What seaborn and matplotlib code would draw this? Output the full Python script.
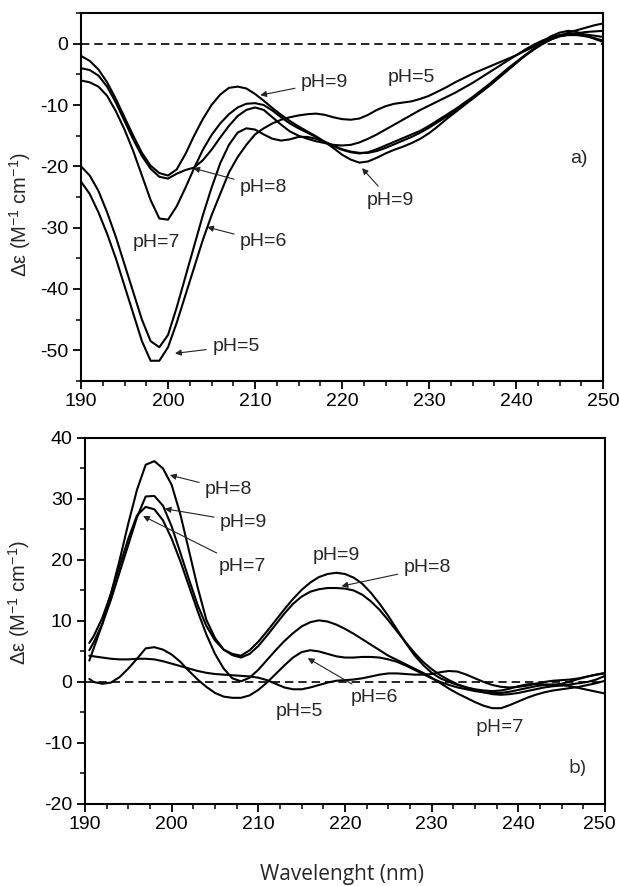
import numpy as np
import pandas as pd
import matplotlib
matplotlib.use("Agg")
import matplotlib.pyplot as plt
import matplotlib.transforms as mtransforms
import seaborn as sns
from matplotlib.ticker import MultipleLocator

# CD spectra (delta epsilon, M-1 cm-1)
WL_A = list(range(190, 251))
WL_B = [190.5] + list(range(191, 251))

# panel a)
A_PH9 = [-2, -2.8, -4.2, -6.3, -9, -12, -15, -17.8, -19.9, -21.1,
         -21.5, -20.5, -18, -15, -12.3, -10, -8.3, -7.2, -7, -7.3,
         -8.2, -9.3, -10.5, -11.6, -12.6, -13.5, -14.3, -15.1, -16, -17,
         -18.1, -18.9, -19.4, -19.2, -18.6, -17.9, -17.3, -16.8, -16.2, -15.5,
         -14.6, -13.5, -12.3, -11.2, -10.1, -9, -7.9, -6.8, -5.6, -4.4,
         -3.2, -2, -0.9, 0, 0.7, 1.2, 1.4, 1.4, 1.2, 0.9,
         0.5]
A_PH8 = [-4, -4.3, -5.2, -7, -9.6, -12.6, -15.6, -18.3, -20.4, -21.7,
         -22, -21.2, -20.6, -20.2, -19, -17.3, -15.3, -13.4, -11.8, -10.8,
         -10.4, -10.8, -12, -13.2, -14.3, -15, -15.5, -15.9, -16.2, -16.5,
         -16.6, -16.5, -16.1, -15.5, -14.8, -14, -13.2, -12.4, -11.6, -10.8,
         -10.1, -9.4, -8.7, -8, -7.2, -6.4, -5.5, -4.6, -3.7, -2.8,
         -1.9, -1, -0.2, 0.5, 1, 1.4, 1.6, 1.6, 1.5, 1.3,
         1.1]
A_PH7 = [-6, -6.3, -7, -8.5, -11, -14, -17.5, -21.5, -25.5, -28.5,
         -28.7, -26.5, -23.5, -20.3, -17.3, -14.9, -13, -11.5, -10.4, -9.8,
         -9.7, -10, -10.9, -12, -13, -13.8, -14.5, -15.2, -16, -16.7,
         -17.3, -17.7, -17.9, -17.7, -17.2, -16.6, -16, -15.4, -14.8, -14.2,
         -13.4, -12.5, -11.6, -10.7, -9.7, -8.7, -7.6, -6.5, -5.3, -4.1,
         -3, -1.9, -0.9, 0, 0.7, 1.2, 1.5, 1.7, 1.9, 2,
         2.1]
A_PH6 = [-20, -21.5, -24, -27.5, -31.5, -36, -40.5, -45, -48.5, -49.5,
         -47.5, -43, -38, -33, -28, -23.5, -19.5, -16.5, -14.5, -13.8,
         -14, -14.8, -15.5, -15.8, -15.6, -15.2, -15.2, -15.5, -16, -16.6,
         -17.2, -17.6, -17.8, -17.8, -17.5, -17, -16.4, -15.8, -15.2, -14.5,
         -13.7, -12.8, -11.9, -10.9, -9.9, -8.9, -7.8, -6.7, -5.5, -4.3,
         -3.1, -2, -1, -0.1, 0.7, 1.3, 1.8, 2.2, 2.6, 3,
         3.3]
A_PH5 = [-22.5, -24.5, -27.5, -31, -35, -39.5, -44, -48.5, -51.7, -51.7,
         -49.5, -45.5, -41, -36.5, -32, -28, -24.5, -21, -18.5, -16.5,
         -14.8, -13.8, -13, -12.4, -12, -11.7, -11.5, -11.4, -11.6, -12,
         -12.3, -12.4, -12.2, -11.6, -10.8, -10.2, -9.8, -9.6, -9.4, -9,
         -8.5, -7.8, -7.1, -6.3, -5.6, -4.9, -4.3, -3.7, -3.1, -2.5,
         -1.9, -1.2, -0.5, 0.3, 1.2, 1.8, 2.1, 1.9, 1.4, 0.8,
         0.3]

# panel b)
B_PH8 = [3.5,
         5.5, 9.5, 14.5, 20, 26, 31.5, 35.6, 36.2, 35, 32.3,
         27.5, 21.5, 15.5, 10.2, 7.2, 5.3, 4.4, 4, 4.6, 5.9,
         7.6, 9.4, 11.2, 12.8, 14, 14.8, 15.2, 15.4, 15.4, 15.3,
         15, 14.3, 13.2, 11.8, 10.1, 8.3, 6.5, 4.8, 3.3, 2.1,
         1.1, 0.3, -0.4, -0.9, -1.3, -1.7, -2, -2.1, -2, -1.8,
         -1.5, -1.2, -0.9, -0.7, -0.6, -0.4, -0.2, 0, 0.4, 1]
B_PH9 = [5.2,
         6.5, 9.5, 13.5, 18, 22.5, 27, 30.4, 30.5, 28.9, 25.5,
         21.2, 16.8, 12.6, 9.2, 6.8, 5.3, 4.6, 4.3, 5.2, 6.6,
         8.3, 10.1, 11.9, 13.6, 15.1, 16.3, 17.2, 17.7, 17.9, 17.7,
         17.1, 16.1, 14.6, 12.8, 10.8, 8.6, 6.4, 4.4, 2.8, 1.5,
         0.6, 0, -0.5, -0.9, -1.2, -1.4, -1.5, -1.4, -1.1, -0.7,
         -0.4, -0.3, -0.4, -0.5, -0.3, 0.1, 0.5, 0.9, 1.2, 1.5]
B_PH7 = [6.4,
         7.5, 10.5, 14.5, 19, 23.5, 27.3, 28.7, 28.3, 26.5, 23.5,
         19.8, 15.7, 11.6, 7.8, 4.6, 2.2, 0.6, 0.1, 0.7, 2,
         3.6, 5.2, 6.7, 8, 9.1, 9.8, 10.1, 9.9, 9.4, 8.7,
         7.9, 7, 6.1, 5.2, 4.3, 3.6, 2.9, 2.2, 1.5, 0.7,
         -0.2, -1.1, -1.9, -2.6, -3.3, -3.9, -4.3, -4.3, -3.8, -3.2,
         -2.6, -2.1, -1.7, -1.4, -1.2, -1, -0.8, -0.5, -0.2, 0.2]
B_PH6 = [0.5,
         0, -0.3, -0.1, 0.8, 2.2, 3.8, 5.5, 5.7, 5.3, 4.5,
         3.3, 1.8, 0.4, -0.8, -1.8, -2.4, -2.6, -2.6, -2.2, -1.3,
         -0.1, 1.3, 2.7, 4, 4.9, 5.2, 5, 4.6, 4.2, 4,
         4, 4.1, 4.1, 4, 3.7, 3.3, 2.7, 2, 1.3, 0.6,
         0, -0.5, -0.9, -1.2, -1.5, -1.7, -1.8, -1.8, -1.6, -1.3,
         -1, -0.7, -0.5, -0.4, -0.5, -0.7, -1, -1.3, -1.6, -1.9]
B_PH5 = [4.3,
         4.2, 4, 3.8, 3.7, 3.7, 3.8, 3.8, 3.7, 3.4, 3,
         2.6, 2.2, 1.8, 1.5, 1.3, 1.2, 1.1, 1, 0.9, 0.7,
         0.3, -0.3, -0.9, -1.2, -1.2, -0.9, -0.5, -0.1, 0.2, 0.3,
         0.4, 0.6, 0.9, 1.2, 1.4, 1.4, 1.3, 1.2, 1.2, 1.3,
         1.6, 1.8, 1.7, 1.2, 0.6, 0, -0.5, -0.8, -0.9, -0.8,
         -0.6, -0.3, 0, 0.2, 0.3, 0.4, 0.6, 0.9, 1.2, 1.4]

sns.set_style("ticks")
plt.rcParams.update({
    "font.family": ["Liberation Sans", "DejaVu Sans"],
    "axes.unicode_minus": False,
    "mathtext.default": "regular",
    "axes.linewidth": 1.5,
    "axes.edgecolor": "black",
    "xtick.color": "black", "ytick.color": "black",
    "xtick.major.width": 1.3, "ytick.major.width": 1.3,
    "xtick.minor.width": 1.1, "ytick.minor.width": 1.1,
    "xtick.major.size": 6, "ytick.major.size": 6,
    "xtick.minor.size": 3.5, "ytick.minor.size": 3.5,
    "xtick.labelsize": 14, "ytick.labelsize": 14,
})

YLABEL = r"$\Delta\varepsilon$ (M$^{-1}$ cm$^{-1}$)"
ARROW = dict(arrowstyle="-|>", color="#222222", lw=0.8, mutation_scale=9, shrinkA=2, shrinkB=0)
LABEL_SIZE = 14


def draw_panel(ax, wl, curves):
    df = pd.concat([pd.DataFrame({"wl": wl, "de": v, "pH": k}) for k, v in curves.items()])
    sns.lineplot(data=df, x="wl", y="de", hue="pH", palette=["black"] * len(curves),
                 legend=False, estimator=None, sort=False, lw=1.5, ax=ax)
    ax.axhline(0, color="black", lw=1.2, ls=(0, (5, 3)), zorder=1)
    ax.set_xlim(190, 250)
    ax.xaxis.set_major_locator(MultipleLocator(10))
    ax.xaxis.set_minor_locator(MultipleLocator(2.5))
    ax.yaxis.set_major_locator(MultipleLocator(10))
    ax.yaxis.set_minor_locator(MultipleLocator(5))
    ax.tick_params(which="both", top=False, right=False, pad=3)
    for s in ax.spines.values():
        s.set_visible(True)
        s.set_color("black")


def label(ax, text, xy_text, tip=None, **kw):
    if tip is None:
        ax.text(*xy_text, text, ha="center", va="center", fontsize=LABEL_SIZE, **kw)
    else:
        ax.annotate(text, xy=tip, xytext=xy_text, ha="center", va="center",
                    fontsize=LABEL_SIZE, arrowprops=ARROW, **kw)


fig = plt.figure(figsize=(6.19, 8.86), dpi=100)
ax_a = fig.add_axes([0.1309, 0.5700, 0.8433, 0.4153])
ax_b = fig.add_axes([0.1373, 0.0926, 0.8401, 0.4131])

# a)
draw_panel(ax_a, WL_A, {"9": A_PH9, "8": A_PH8, "7": A_PH7, "6": A_PH6, "5": A_PH5})
ax_a.set_ylim(-55, 5)
ax_a.set_xlabel("")
ax_a.set_ylabel(YLABEL, fontsize=14.5)
ax_a.yaxis.set_label_coords(-0.092, 0.451)
label(ax_a, "pH=9", (218.0, -6.3), (210.6, -8.4))
label(ax_a, "pH=5", (228.0, -5.5))
label(ax_a, "pH=8", (211.0, -23.4), (202.9, -20.3))
label(ax_a, "pH=9", (225.6, -25.5), (222.3, -20.3))
label(ax_a, "pH=7", (198.7, -32.5))
label(ax_a, "pH=6", (211.0, -32.3), (204.5, -29.9))
label(ax_a, "pH=5", (207.8, -49.3), (200.8, -50.5))
label(ax_a, "a)", (247.2, -18.7))

# b)
draw_panel(ax_b, WL_B, {"8": B_PH8, "9": B_PH9, "7": B_PH7, "6": B_PH6, "5": B_PH5})
ax_b.set_ylim(-20, 40)
ax_b.set_ylabel(YLABEL, fontsize=14.5)
ax_b.yaxis.set_label_coords(-0.102, 0.549)
ax_b.set_xlabel("Wavelenght (nm)", fontsize=15, family=["Open Sans", "DejaVu Sans"])
ax_b.xaxis.set_label_coords(0.494, -0.163)
label(ax_b, "pH=8", (206.6, 31.5), (199.8, 33.9))
label(ax_b, "pH=9", (208.3, 26.2), (199.2, 28.4))
label(ax_b, "pH=7", (208.2, 19.0), (196.7, 27.2))
label(ax_b, "pH=9", (219.0, 20.8))
label(ax_b, "pH=8", (229.5, 18.7), (219.6, 15.7))
label(ax_b, "pH=6", (223.4, -2.5), (215.7, 3.9))
label(ax_b, "pH=5", (214.7, -4.8))
label(ax_b, "pH=7", (237.8, -7.4), family=["Open Sans", "DejaVu Sans"])
label(ax_b, "b)", (246.8, -14.1), family=["Open Sans", "DejaVu Sans"])

# nudge the last "250" of the lower panel so it stays inside the figure
fig.canvas.draw()
for tick in ax_b.xaxis.get_major_ticks():
    if abs(tick.get_loc() - 250) < 1e-6:
        lab = tick.label1
        lab.set_transform(lab.get_transform() + mtransforms.ScaledTranslation(-4 / 72, 0, fig.dpi_scale_trans))

fig.savefig("out.png", dpi=100)
